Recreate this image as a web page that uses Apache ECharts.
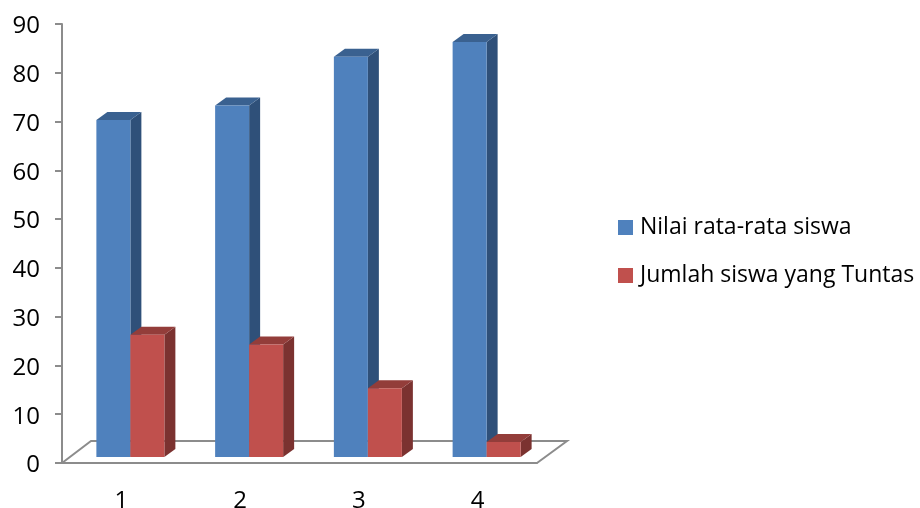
<!DOCTYPE html>
<html>
<head>
<meta charset="utf-8">
<style>
  html, body { margin: 0; padding: 0; background: #fff; }
  #chart { width: 920px; height: 508px; }
</style>
<script src="https://cdn.jsdelivr.net/npm/echarts@6/dist/echarts.min.js"></script>
</head>
<body>
<div id="chart"></div>
<script>
const categories = ['1', '2', '3', '4']
const seriesNames = ['Nilai rata-rata siswa', 'Jumlah siswa yang Tuntas']
const nilaiValues = [70, 73, 83, 86]
const tuntasValues = [26, 24, 15, 4]
const yTicks = { min: 0, max: 90, interval: 10 }

const FONT = '"Open Sans", sans-serif'
const AXIS_COLOR = '#8c8c8c'
// fake 3D: depth of a box and how far the boxes sit above the axis baseline
const DEPTH_X = 11
const DEPTH_Y = 8
const BASE_LIFT = 6
const TOP_LIFT = 1.5
const BAR_W = 34
const SHIFT = 9

// one box = front face + side face + top face
function boxRender(offset, front, side, top) {
  return (params, api) => {
    const p = api.coord([api.value(0), api.value(1)])
    const zero = api.coord([api.value(0), 0])
    const x0 = p[0] + SHIFT + offset
    const x1 = x0 + BAR_W
    const yTop = p[1] - TOP_LIFT
    const yBase = zero[1] - BASE_LIFT
    return {
      type: 'group',
      children: [
        { type: 'polygon', shape: { points: [[x1, yTop], [x1 + DEPTH_X, yTop - DEPTH_Y], [x1 + DEPTH_X, yBase - DEPTH_Y], [x1, yBase]] }, style: { fill: side } },
        { type: 'polygon', shape: { points: [[x0, yTop], [x0 + DEPTH_X, yTop - DEPTH_Y], [x1 + DEPTH_X, yTop - DEPTH_Y], [x1, yTop]] }, style: { fill: top } },
        { type: 'rect', shape: { x: x0, y: yTop, width: BAR_W, height: yBase - yTop }, style: { fill: front } }
      ]
    }
  }
}

// the floor outline, hung off the category axis
function floorRender(params, api) {
  const band = api.size([1, 0])[0]
  const first = api.coord([0, 0])
  const last = api.coord([categories.length - 1, 0])
  const left = first[0] - band / 2
  const right = last[0] + band / 2
  const y = first[1]
  return {
    type: 'polyline',
    shape: { points: [[left, y], [left + 29, y - 22], [right + 30, y - 22], [right, y]] },
    style: { fill: 'none', stroke: AXIS_COLOR, lineWidth: 2 }
  }
}

const chart = echarts.init(document.getElementById('chart'))

chart.setOption({
  animation: false,
  backgroundColor: '#fff',
  grid: { left: 62, right: 383, top: 24, bottom: 45, outerBoundsMode: 'none' },
  legend: {
    left: 613,
    top: 211,
    orient: 'vertical',
    data: seriesNames,
    icon: 'rect',
    itemWidth: 15,
    itemHeight: 15,
    itemGap: 25,
    textStyle: { fontFamily: FONT, fontSize: 23, color: '#000', padding: [0, 0, 0, 2] }
  },
  xAxis: {
    type: 'category',
    data: categories,
    boundaryGap: true,
    axisLine: { lineStyle: { color: AXIS_COLOR, width: 2 } },
    axisTick: { length: 8, lineStyle: { color: AXIS_COLOR, width: 2 } },
    axisLabel: { fontFamily: FONT, fontSize: 24, color: '#000', margin: 26 }
  },
  yAxis: {
    type: 'value',
    min: yTicks.min,
    max: yTicks.max,
    interval: yTicks.interval,
    splitLine: { show: false },
    axisLine: { show: true, lineStyle: { color: AXIS_COLOR, width: 2 } },
    axisTick: { show: true, length: 7, lineStyle: { color: AXIS_COLOR, width: 2 } },
    axisLabel: {
      margin: 22,
      // rich padding nudges the digits down to sit level with their ticks
      formatter: '{n|{value}}',
      rich: { n: { fontFamily: FONT, fontSize: 24, color: '#000', padding: [5, 0, 0, 0] } }
    }
  },
  series: [
    {
      type: 'custom',
      silent: true,
      z: 1,
      renderItem: floorRender,
      data: [[0, 0]]
    },
    {
      name: seriesNames[0],
      type: 'custom',
      z: 2,
      itemStyle: { color: '#4F81BD' },
      renderItem: boxRender(-BAR_W, '#4F81BD', '#2F5079', '#3A6190'),
      encode: { x: 0, y: 1 },
      data: nilaiValues.map((v, i) => [i, v])
    },
    {
      name: seriesNames[1],
      type: 'custom',
      z: 3,
      itemStyle: { color: '#C0504D' },
      renderItem: boxRender(0, '#C0504D', '#7B3230', '#933D3A'),
      encode: { x: 0, y: 1 },
      data: tuntasValues.map((v, i) => [i, v])
    }
  ]
})
</script>
</body>
</html>
